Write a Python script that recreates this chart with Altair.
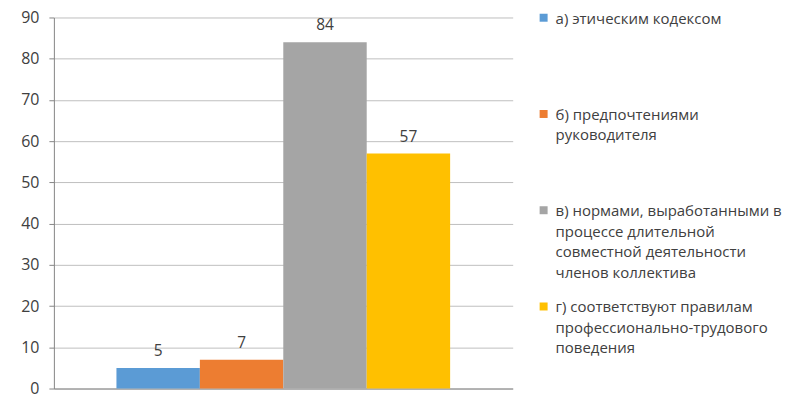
import altair as alt
import pandas as pd

categories = ["а", "б", "в", "г"]
values = [5, 7, 84, 57]
legend_labels = [
    "а) этическим кодексом",
    "б) предпочтениями\nруководителя",
    "в) нормами, выработанными в\nпроцессе длительной\nсовместной деятельности\nчленов коллектива",
    "г)  соответствуют правилам\nпрофессионально-трудового\nповедения",
]
colors = ["#5B9BD5", "#ED7D31", "#A5A5A5", "#FFC000"]
y_ticks = list(range(0, 91, 10))

df = pd.DataFrame({"cat": categories, "value": values, "label": legend_labels})

FONT = "Open Sans"
TXT = "#404040"

color = alt.Color("cat:N", scale=alt.Scale(domain=categories, range=colors), legend=None)

x = alt.X(
    "cat:N",
    sort=categories,
    scale=alt.Scale(paddingInner=0, paddingOuter=0.75),
    axis=alt.Axis(labels=False, ticks=False, title=None, domainColor="#868686", grid=False),
)
y = alt.Y(
    "value:Q",
    scale=alt.Scale(domain=[0, 90], nice=False),
    axis=alt.Axis(
        values=y_ticks, title=None, grid=True, gridColor="#BFBFBF",
        domainColor="#868686", tickColor="#868686", tickSize=5, labelPadding=10,
        labelFont=FONT, labelFontSize=16, labelColor=TXT,
    ),
)

bars = alt.Chart(df).mark_bar().encode(x=x, y=y, color=color)
labels = alt.Chart(df).mark_text(
    baseline="alphabetic", dy=-12, font=FONT, fontSize=15.5, color=TXT
).encode(x=alt.X("cat:N", sort=categories), y="value:Q", text="value:Q")
bar_chart = (bars + labels).properties(width=460, height=372)

leg_y = alt.Y(
    "cat:N", sort=categories, axis=None,
    scale=alt.Scale(paddingInner=0, paddingOuter=0, range=[0, 386]),
)
squares = alt.Chart(df).mark_square(size=64, opacity=1, yOffset=-48).encode(
    x=alt.value(11), y=leg_y, color=color
)
texts = alt.Chart(df).mark_text(
    align="left", baseline="top", lineBreak="\n", lineHeight=20.5,
    font=FONT, fontSize=15, color=TXT, dy=-54,
).encode(x=alt.value(23), y=leg_y, text="label:N")
legend = (squares + texts).properties(width=246, height=372)

chart = (
    alt.hconcat(bar_chart, legend, spacing=20)
    .properties(padding={"left": 12, "top": 1, "right": 0, "bottom": 2})
    .configure_view(stroke=None)
)

chart.save("out.html", embed_options={"renderer": "svg", "actions": False})
